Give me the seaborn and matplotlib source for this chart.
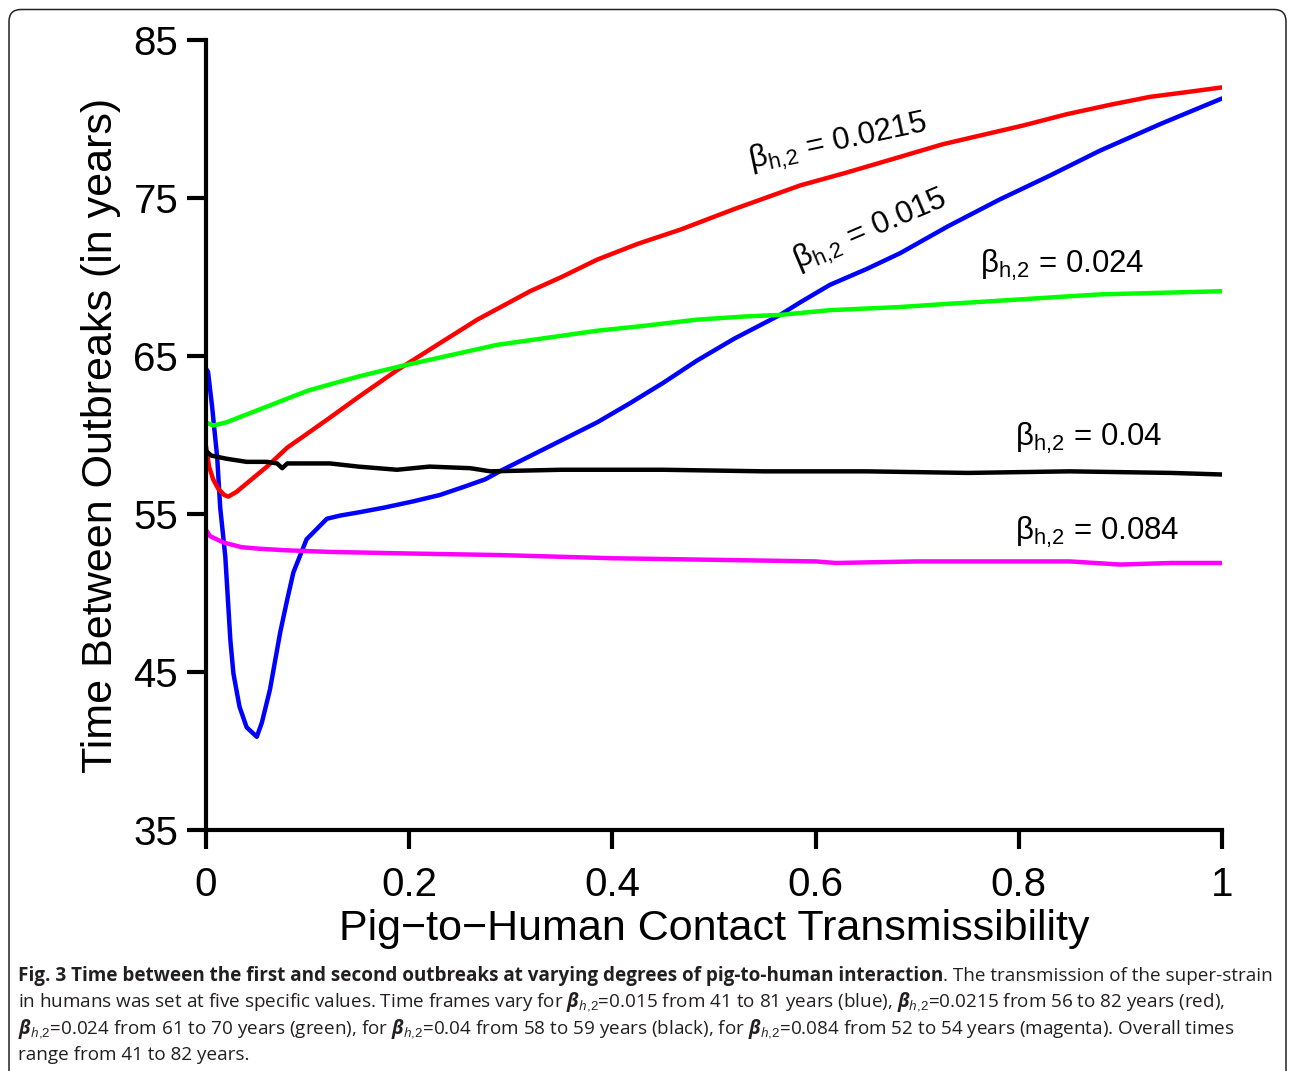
import matplotlib
matplotlib.use("Agg")
import matplotlib.pyplot as plt
from matplotlib.patches import FancyBboxPatch
from matplotlib.transforms import IdentityTransform
import numpy as np
import pandas as pd
import seaborn as sns

# ---------------- data ----------------
blue_x = [0.0, 0.002, 0.006, 0.011, 0.014, 0.019, 0.024, 0.027, 0.033, 0.040, 0.050,
          0.055, 0.063, 0.073, 0.080, 0.086, 0.099, 0.119, 0.132, 0.150, 0.175, 0.204,
          0.230, 0.253, 0.275, 0.292, 0.320, 0.351, 0.385, 0.417, 0.450, 0.483, 0.520,
          0.565, 0.585, 0.614, 0.650, 0.683, 0.730, 0.781, 0.830, 0.880, 0.940, 1.0]
blue_y = [64.2, 64.0, 61.8, 58.6, 55.4, 52.3, 47.0, 44.9, 42.8, 41.5, 40.9,
          41.8, 43.9, 47.5, 49.6, 51.3, 53.4, 54.7, 54.9, 55.1, 55.4, 55.8,
          56.2, 56.7, 57.2, 57.8, 58.7, 59.7, 60.8, 62.0, 63.3, 64.7, 66.1,
          67.6, 68.4, 69.5, 70.5, 71.5, 73.2, 74.9, 76.4, 78.0, 79.7, 81.3]

red_x = [0.0, 0.003, 0.007, 0.012, 0.018, 0.022, 0.030, 0.045, 0.060, 0.080, 0.100,
         0.122, 0.150, 0.188, 0.225, 0.267, 0.319, 0.350, 0.385, 0.425, 0.467, 0.520,
         0.585, 0.630, 0.683, 0.725, 0.765, 0.805, 0.847, 0.890, 0.929, 0.965, 1.0]
red_y = [59.3, 58.0, 57.2, 56.6, 56.2, 56.1, 56.4, 57.2, 58.0, 59.2, 60.1,
         61.1, 62.4, 64.1, 65.6, 67.3, 69.1, 70.0, 71.1, 72.1, 73.0, 74.3,
         75.8, 76.6, 77.6, 78.4, 79.0, 79.6, 80.3, 80.9, 81.4, 81.7, 82.0]

green_x = [0.0, 0.007, 0.020, 0.040, 0.060, 0.080, 0.100, 0.122, 0.150, 0.188, 0.230,
           0.286, 0.330, 0.385, 0.430, 0.483, 0.530, 0.565, 0.614, 0.683, 0.730, 0.781,
           0.830, 0.880, 0.940, 1.0]
green_y = [60.8, 60.6, 60.8, 61.3, 61.8, 62.3, 62.8, 63.2, 63.7, 64.3, 64.9,
           65.7, 66.1, 66.6, 66.9, 67.3, 67.5, 67.6, 67.9, 68.1, 68.3, 68.5,
           68.7, 68.9, 69.0, 69.1]

black_x = [0.0, 0.005, 0.020, 0.040, 0.060, 0.070, 0.075, 0.080, 0.100, 0.122, 0.150,
           0.188, 0.220, 0.260, 0.280, 0.350, 0.450, 0.550, 0.650, 0.750, 0.850, 0.950, 1.0]
black_y = [59.0, 58.7, 58.5, 58.3, 58.3, 58.2, 57.9, 58.2, 58.2, 58.2, 58.0,
           57.8, 58.0, 57.9, 57.7, 57.8, 57.8, 57.7, 57.7, 57.6, 57.7, 57.6, 57.5]

magenta_x = [0.0, 0.004, 0.017, 0.035, 0.053, 0.080, 0.122, 0.200, 0.290, 0.400, 0.500,
             0.600, 0.620, 0.700, 0.800, 0.850, 0.900, 0.950, 1.0]
magenta_y = [54.0, 53.6, 53.2, 52.9, 52.8, 52.7, 52.6, 52.5, 52.4, 52.2, 52.1,
             52.0, 51.9, 52.0, 52.0, 52.0, 51.8, 51.9, 51.9]

series_names = ["0.015", "0.0215", "0.024", "0.04", "0.084"]
series_colors = ["#0000ff", "#ff0000", "#00ff00", "#000000", "#ff00ff"]

x_ticks = [0, 0.2, 0.4, 0.6, 0.8, 1.0]
x_tick_labels = ["0", "0.2", "0.4", "0.6", "0.8", "1"]
y_ticks = [35, 45, 55, 65, 75, 85]
x_label = "Pig\u2212to\u2212Human Contact Transmissibility"
y_label = "Time Between Outbreaks (in years)"

# ---------------- build long table ----------------
frames = []
for name, xs, ys in zip(series_names,
                        [blue_x, red_x, green_x, black_x, magenta_x],
                        [blue_y, red_y, green_y, black_y, magenta_y]):
    frames.append(pd.DataFrame({"x": xs, "y": ys, "beta": name}))
df = pd.concat(frames, ignore_index=True)

# ---------------- style ----------------
sns.set_style("ticks")
plt.rcParams["font.family"] = ["Liberation Sans", "DejaVu Sans"]
plt.rcParams["mathtext.fontset"] = "custom"
plt.rcParams["mathtext.rm"] = "Liberation Sans"
plt.rcParams["mathtext.it"] = "Open Sans:italic"
plt.rcParams["mathtext.bf"] = "Open Sans:italic:bold"
plt.rcParams["text.color"] = "black"
plt.rcParams["axes.labelcolor"] = "black"
plt.rcParams["axes.edgecolor"] = "black"
plt.rcParams["xtick.color"] = "black"
plt.rcParams["ytick.color"] = "black"

W, H = 1290, 1071
fig = plt.figure(figsize=(W / 100, H / 100), dpi=100)
fig.patch.set_facecolor("white")

ax = fig.add_axes([206 / W, 1 - 830 / H, 1016 / W, 790 / H])

sns.lineplot(data=df, x="x", y="y", hue="beta", hue_order=series_names,
             palette=dict(zip(series_names, series_colors)), sort=False,
             estimator=None, legend=False, linewidth=3.2, ax=ax)

ax.set_xlim(0, 1)
ax.set_ylim(35, 85)
ax.set_xticks(x_ticks)
ax.set_xticklabels(x_tick_labels)
ax.set_yticks(y_ticks)
sns.despine(ax=ax)
for s in ["left", "bottom"]:
    ax.spines[s].set_linewidth(3.0)
    ax.spines[s].set_color("black")
ax.tick_params(axis="both", direction="out", length=14, width=3.0,
               labelsize=29, color="black", labelcolor="black")
ax.tick_params(axis="y", pad=6)
ax.tick_params(axis="x", pad=12)

ax.set_xlabel(x_label, fontsize=31, color="black")
ax.set_ylabel(y_label, fontsize=31, color="black")
ax.xaxis.set_label_coords(0.5, -0.100)
ax.yaxis.set_label_coords(-0.084, 0.5)

# curve annotations
lab_fs = 22.5
ax.text(0.622, 78.5, r"$\mathrm{\beta_{h{,}2}}$ = 0.0215", fontsize=lab_fs,
        rotation=12, rotation_mode="anchor", ha="center", va="center")
ax.text(0.654, 72.9, r"$\mathrm{\beta_{h{,}2}}$ = 0.015", fontsize=lab_fs,
        rotation=23, rotation_mode="anchor", ha="center", va="center")
ax.text(0.762, 70.25, r"$\mathrm{\beta_{h{,}2}}$ = 0.024", fontsize=lab_fs,
        ha="left", va="baseline")
ax.text(0.796, 59.3, r"$\mathrm{\beta_{h{,}2}}$ = 0.04", fontsize=lab_fs,
        ha="left", va="baseline")
ax.text(0.796, 53.35, r"$\mathrm{\beta_{h{,}2}}$ = 0.084", fontsize=lab_fs,
        ha="left", va="baseline")

# ---------------- border ----------------
border = FancyBboxPatch((9, -30), 1277, H - 9.5 + 30,
                        boxstyle="round,pad=0,rounding_size=12",
                        transform=IdentityTransform(), facecolor="none",
                        edgecolor="#222222", linewidth=1.1, clip_on=False)
fig.patches.append(border)

# ---------------- caption ----------------
B = r"$\mathbf{\beta}_{\mathit{h{,}2}}$"
caption_lines = [
    [("Fig. 3 Time between the first and second outbreaks at varying degrees of "
      "pig-to-human interaction", "bold"),
     (". The transmission of the super-strain", "normal")],
    [("in humans was set at five specific values. Time frames vary for " + B +
      "=0.015 from 41 to 81 years (blue), " + B + "=0.0215 from 56 to 82 years (red),",
      "normal")],
    [(B + "=0.024 from 61 to 70 years (green), for " + B +
      "=0.04 from 58 to 59 years (black), for " + B +
      "=0.084 from 52 to 54 years (magenta). Overall times", "normal")],
    [("range from 41 to 82 years.", "normal")],
]
baselines_px = [981, 1007, 1034, 1060]
x0_px = 18
cap_color = "#231f20"

renderer = fig.canvas.get_renderer()


def draw_caption(size):
    objs = []
    widths = []
    for segs, ybl in zip(caption_lines, baselines_px):
        xpx = x0_px
        for txt, wt in segs:
            t = fig.text(xpx / W, 1 - ybl / H, txt, fontsize=size, fontweight=wt,
                         family=["Open Sans", "DejaVu Sans"], color=cap_color,
                         ha="left", va="baseline")
            bb = t.get_window_extent(renderer=renderer)
            xpx = bb.x1
            objs.append(t)
        widths.append(xpx - x0_px)
    return objs, widths


cap_size = 11.5
objs, widths = draw_caption(cap_size)
scale = 1258.0 / widths[0]
if 0.8 < scale < 1.2 and abs(scale - 1) > 0.01:
    for t in objs:
        t.remove()
    objs, widths = draw_caption(cap_size * scale)

fig.savefig("out.png", dpi=100, facecolor="white")
